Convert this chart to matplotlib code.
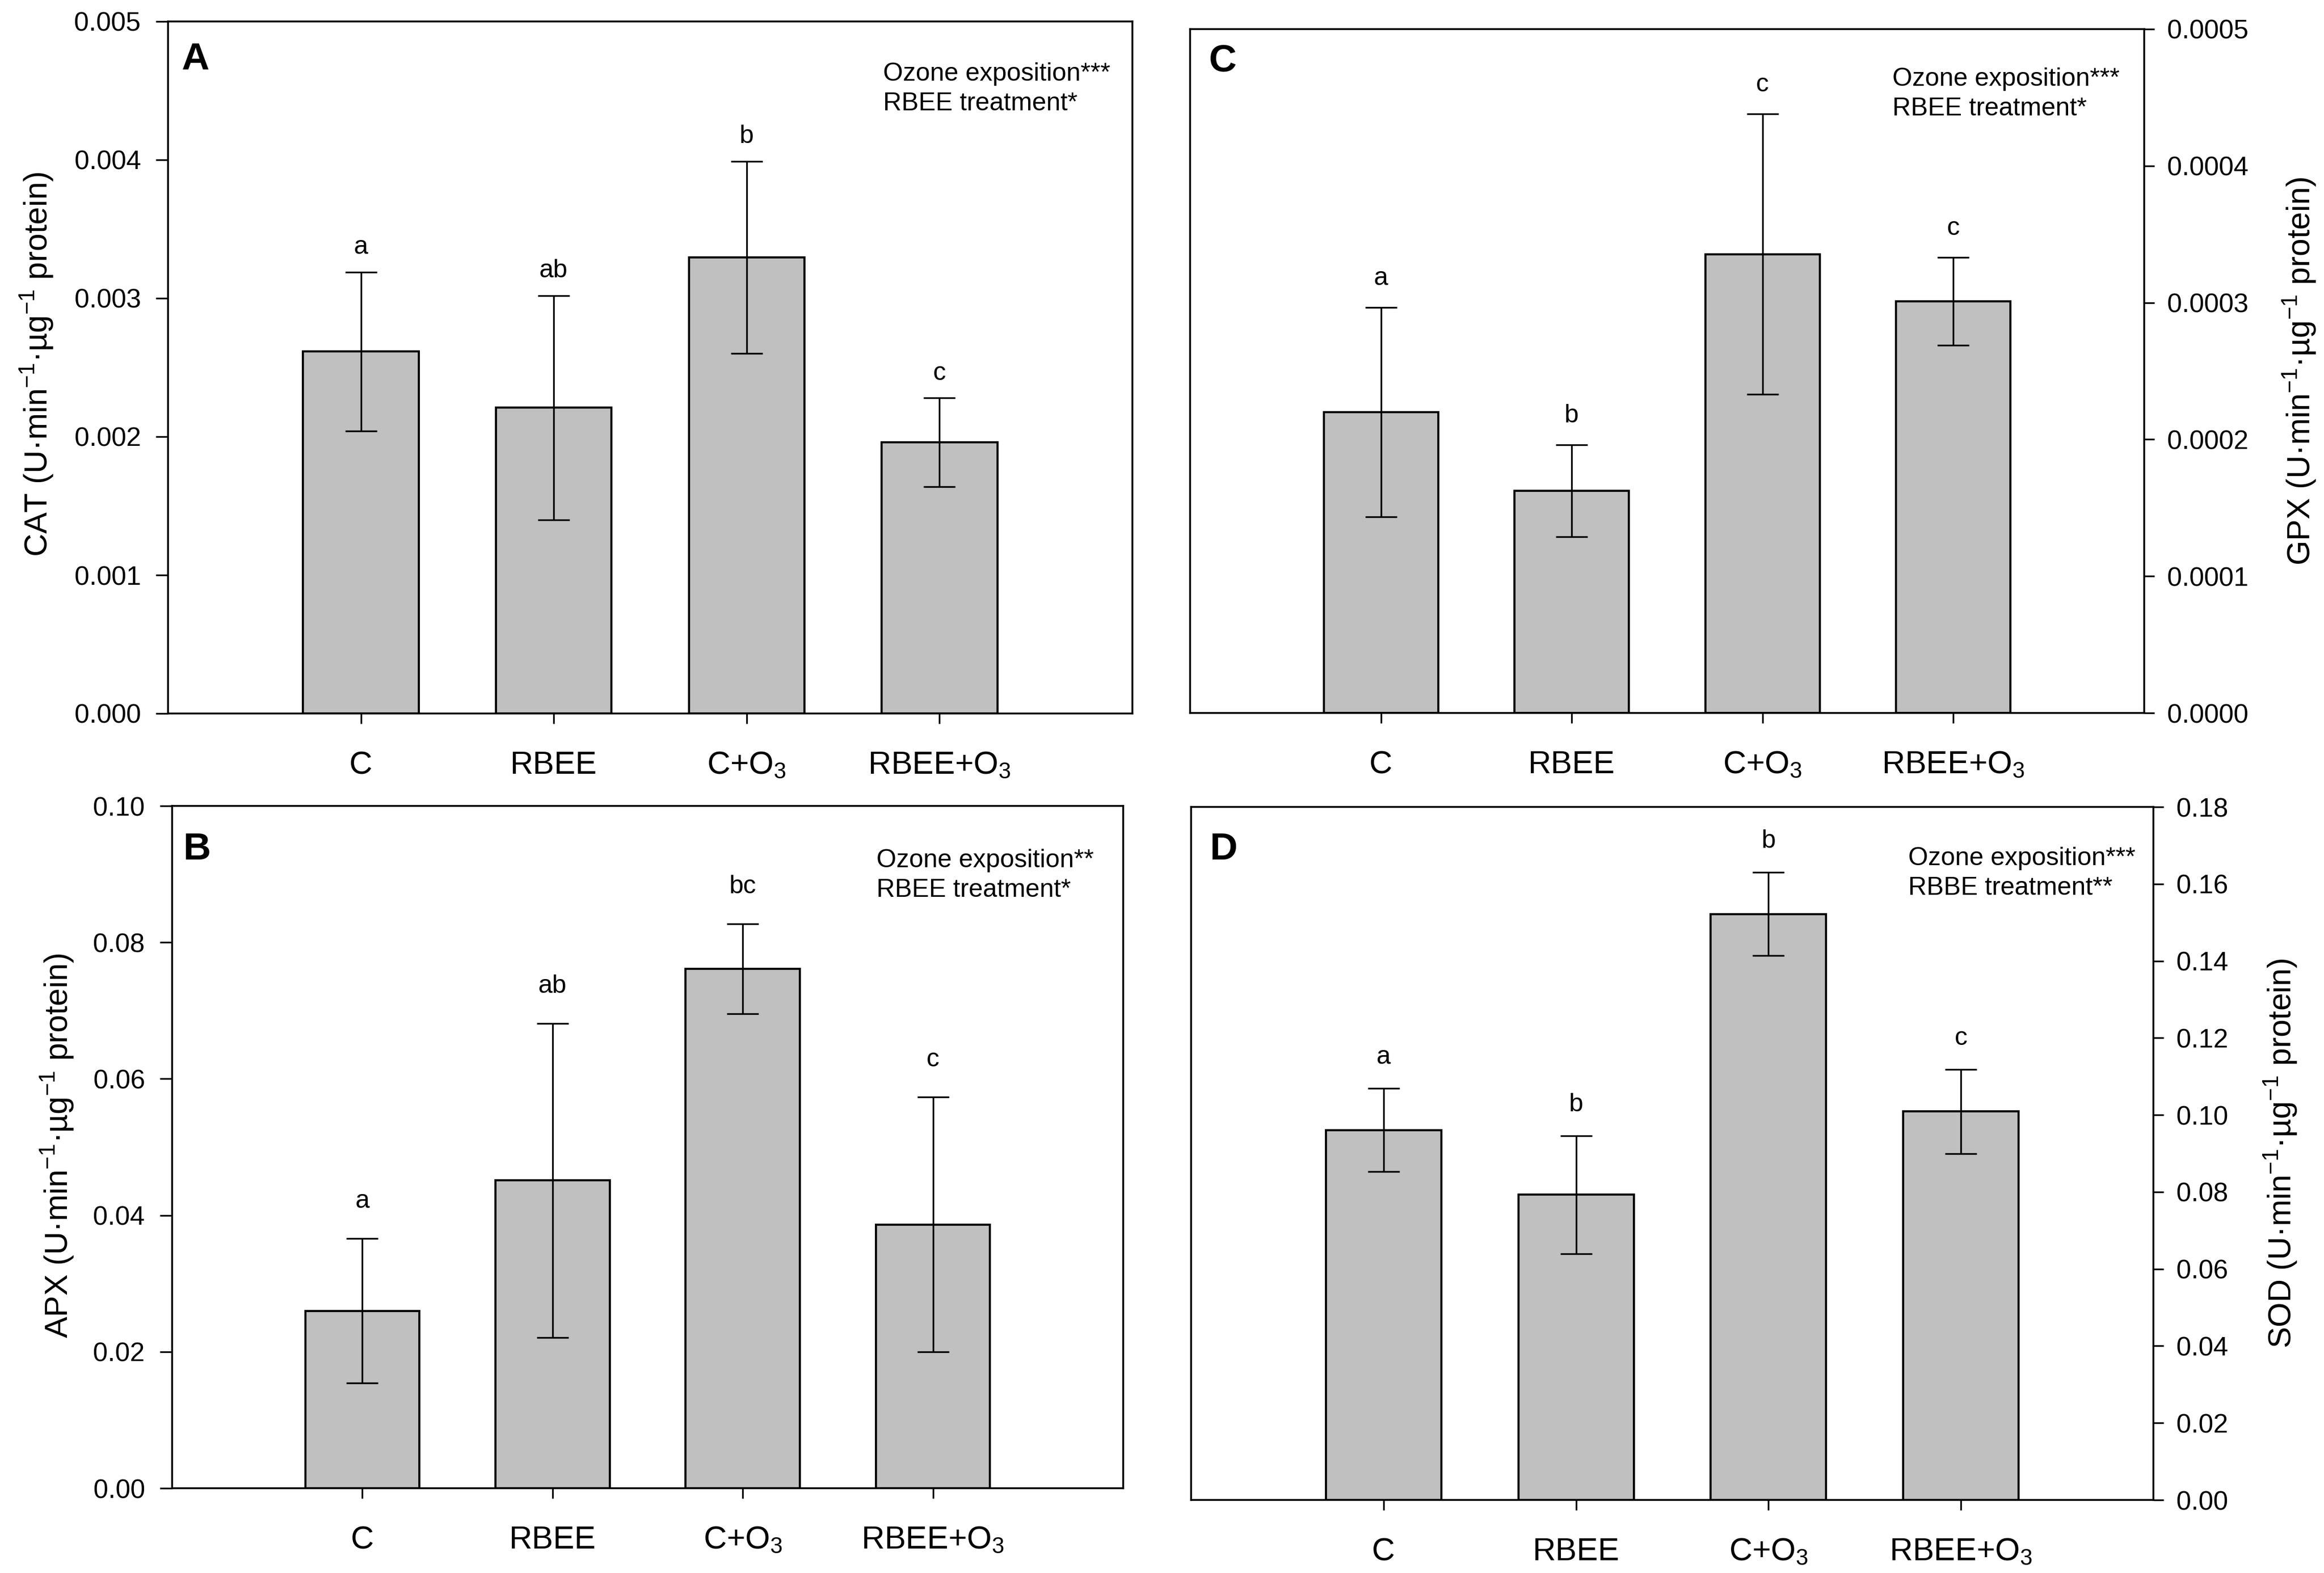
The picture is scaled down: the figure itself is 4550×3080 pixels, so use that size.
import matplotlib
matplotlib.use("Agg")
import matplotlib.pyplot as plt
import numpy as np

plt.rcParams['font.family'] = ['Liberation Sans', 'DejaVu Sans']
plt.rcParams['mathtext.fontset'] = 'custom'
plt.rcParams['mathtext.rm'] = 'Liberation Sans'
plt.rcParams['mathtext.it'] = 'Liberation Sans:italic'
plt.rcParams['mathtext.bf'] = 'Liberation Sans:bold'

# ---------------- data ----------------
categories = ['C', 'RBEE', 'C+O$_3$', 'RBEE+O$_3$']

cat_mean = [0.002615, 0.00221, 0.003295, 0.00196]
cat_err = [0.000575, 0.00081, 0.000695, 0.00032]
cat_letters = ['a', 'ab', 'b', 'c']

gpx_mean = [0.000220, 0.0001625, 0.0003355, 0.000301]
gpx_err = [0.0000765, 0.0000335, 0.0001025, 0.000032]
gpx_letters = ['a', 'b', 'c', 'c']

apx_mean = [0.0260, 0.0451, 0.0761, 0.03865]
apx_err = [0.0106, 0.0230, 0.0066, 0.01865]
apx_letters = ['a', 'ab', 'bc', 'c']

sod_mean = [0.0961, 0.0793, 0.1522, 0.1009]
sod_err = [0.0108, 0.0153, 0.0108, 0.0109]
sod_letters = ['a', 'b', 'b', 'c']

cat_ticks = [0.000, 0.001, 0.002, 0.003, 0.004, 0.005]
gpx_ticks = [0.0000, 0.0001, 0.0002, 0.0003, 0.0004, 0.0005]
apx_ticks = [0.00, 0.02, 0.04, 0.06, 0.08, 0.10]
sod_ticks = [0.00, 0.02, 0.04, 0.06, 0.08, 0.10, 0.12, 0.14, 0.16, 0.18]

cat_label = 'CAT (U·min$^{-1}$·µg$^{-1}$ protein)'
gpx_label = 'GPX (U·min$^{-1}$·µg$^{-1}$ protein)'
apx_label = 'APX (U·min$^{-1}$·µg$^{-1}$ protein)'
sod_label = 'SOD (U·min$^{-1}$·µg$^{-1}$ protein)'

note_A = ['Ozone exposition***', 'RBEE treatment*']
note_C = ['Ozone exposition***', 'RBEE treatment*']
note_B = ['Ozone exposition**', 'RBEE treatment*']
note_D = ['Ozone exposition***', 'RBBE treatment**']

# ---------------- figure ----------------
W, H = 4550, 3080
DPI = 300
fig = plt.figure(figsize=(W / DPI, H / DPI), dpi=DPI)
fig.patch.set_facecolor('white')


def fx(px):
    return px / W


def fy(py):
    return 1 - py / H


def make_ax(l, t, r, b):
    return fig.add_axes([fx(l), fy(b), (r - l) / W, (b - t) / H])


def panel(ax, means, errs, letters, ticks, fmt, side, letter_off):
    x = np.arange(len(categories))
    ax.bar(x, means, width=0.6, color='#c0c0c0', edgecolor='black',
           linewidth=1.0, zorder=2)
    ax.errorbar(x, means, yerr=errs, fmt='none', ecolor='black',
                elinewidth=0.8, capsize=7.5, capthick=0.8, zorder=3)
    for xi, m, e, s in zip(x, means, errs, letters):
        ax.annotate(s, xy=(xi, m + e), xytext=(0, letter_off),
                    textcoords='offset points', ha='center', va='baseline',
                    fontsize=12)
    ax.set_xlim(-1, 4)
    ax.set_ylim(ticks[0], ticks[-1])
    ax.set_yticks(ticks)
    ax.set_yticklabels([fmt % t for t in ticks])
    ax.set_xticks(x)
    ax.set_xticklabels(categories, fontsize=15)
    ax.tick_params(axis='x', direction='out', length=4.8, width=0.8,
                   pad=12.5)
    if side == 'left':
        ax.tick_params(axis='y', direction='out', length=5.8, width=0.8,
                       pad=7, labelsize=12.5)
    else:
        ax.yaxis.tick_right()
        ax.tick_params(axis='y', direction='out', length=4.8, width=0.8,
                       pad=6, labelsize=12.5, left=False, right=True)
    for sp in ax.spines.values():
        sp.set_linewidth(0.85)


axA = make_ax(329, 42, 2217, 1397)
axC = make_ax(2330, 57, 4198, 1396)
axB = make_ax(337, 1578, 2199, 2914)
axD = make_ax(2332, 1580, 4216, 2937)

panel(axA, cat_mean, cat_err, cat_letters, cat_ticks, '%.3f', 'left', 8.5)
panel(axC, gpx_mean, gpx_err, gpx_letters, gpx_ticks, '%.4f', 'right', 10.5)
panel(axB, apx_mean, apx_err, apx_letters, apx_ticks, '%.2f', 'left', 14.5)
panel(axD, sod_mean, sod_err, sod_letters, sod_ticks, '%.2f', 'right', 11.5)

# y-axis labels (baseline x, centre y in pixels)
for lab, bx, cy in [(cat_label, 92, 714), (apx_label, 132, 2243),
                    (gpx_label, 4522, 727), (sod_label, 4485, 2258)]:
    fig.text(fx(bx), fy(cy), lab, rotation=90, rotation_mode='anchor',
             ha='center', va='baseline', fontsize=15)

# panel letters
for s, lx, by in [('A', 355, 136), ('C', 2367, 139),
                  ('B', 359, 1683), ('D', 2369, 1683)]:
    fig.text(fx(lx), fy(by), s, ha='left', va='baseline', fontsize=18,
             fontweight='bold')

# statistical notes
for lines, lx, by in [(note_A, 1729, 158), (note_C, 3705, 168),
                      (note_B, 1716, 1698), (note_D, 3736, 1694)]:
    for k, line in enumerate(lines):
        fig.text(fx(lx), fy(by + 58 * k), line, ha='left', va='baseline',
                 fontsize=12)

fig.savefig('out.png', dpi=DPI, facecolor='white')
